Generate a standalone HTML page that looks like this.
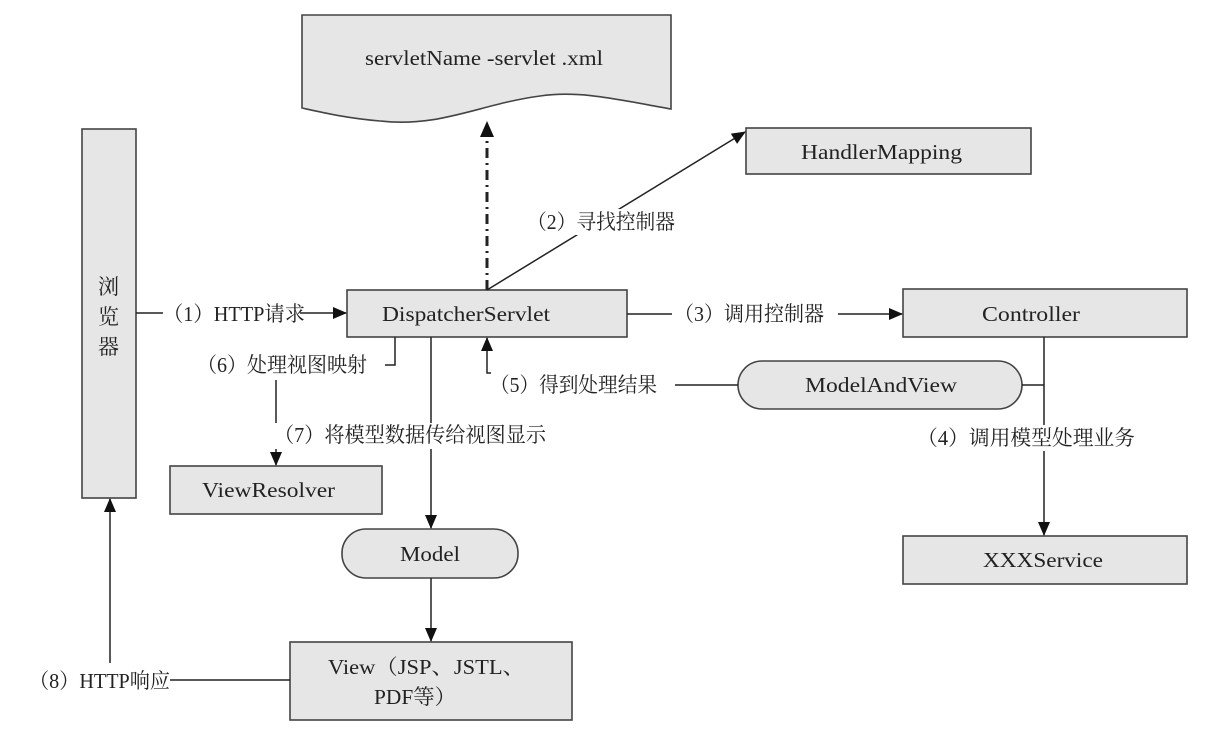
<!DOCTYPE html>
<html><head><meta charset="utf-8"><style>
html,body{margin:0;padding:0;background:#fff;}
svg{display:block;}
text{font-family:"Liberation Serif","Noto Serif CJK SC",serif;font-size:21px;fill:#222;}
</style></head><body>
<svg width="1215" height="733" viewBox="0 0 1215 733" xmlns="http://www.w3.org/2000/svg">
<defs>
<marker id="a" markerWidth="14" markerHeight="12" refX="13" refY="6" orient="auto" markerUnits="userSpaceOnUse">
<path d="M0,0 L14,6 L0,12 Z" fill="#111"/>
</marker>
<marker id="b" markerWidth="16" markerHeight="14" refX="15" refY="7" orient="auto" markerUnits="userSpaceOnUse">
<path d="M0,0 L16,7 L0,14 Z" fill="#111"/>
</marker>
</defs>
<g fill="#e6e6e6" stroke="#444" stroke-width="1.6">
<path d="M302,15 L671,15 L671,109 C620,100 580,90 540,96 C480,104 440,128 380,121 C345,118 320,112 302,108 Z"/>
<rect x="746" y="128" width="285" height="46"/>
<rect x="82" y="129" width="54" height="369"/>
<rect x="347" y="290" width="280" height="47"/>
<rect x="903" y="289" width="284" height="48"/>
<rect x="738" y="361" width="284" height="48" rx="24"/>
<rect x="170" y="466" width="212" height="48"/>
<rect x="342" y="529" width="176" height="49" rx="24"/>
<rect x="903" y="536" width="284" height="48"/>
<rect x="290" y="642" width="282" height="78"/>
</g>
<g fill="none" stroke="#222" stroke-width="1.5">
<line x1="487" y1="290" x2="487" y2="122" stroke-width="3" stroke-dasharray="10,5,2,5" marker-end="url(#b)"/>
<line x1="487" y1="290" x2="745" y2="132" marker-end="url(#a)"/>
<line x1="136" y1="313" x2="163" y2="313"/>
<line x1="300" y1="313" x2="346" y2="313" marker-end="url(#a)"/>
<line x1="627" y1="314" x2="672" y2="314"/>
<line x1="838" y1="314" x2="902" y2="314" marker-end="url(#a)"/>
<line x1="1044" y1="337" x2="1044" y2="535" marker-end="url(#a)"/>
<line x1="1022" y1="385" x2="1044" y2="385"/>
<line x1="675" y1="385" x2="738" y2="385"/>
<polyline points="491,373 487,373 487,338" marker-end="url(#a)"/>
<polyline points="395,337 395,365 385,365"/>
<line x1="276" y1="380" x2="276" y2="465" marker-end="url(#a)"/>
<line x1="431" y1="337" x2="431" y2="528" marker-end="url(#a)"/>
<line x1="431" y1="578" x2="431" y2="641" marker-end="url(#a)"/>
<line x1="170" y1="680" x2="290" y2="680"/>
<line x1="110" y1="663" x2="110" y2="499" marker-end="url(#a)"/>
</g>
<rect x="918" y="425" width="218" height="26" fill="#fff"/>
<rect x="272" y="423" width="278" height="26" fill="#fff"/>
<rect x="527" y="209" width="150" height="26" fill="#fff"/>
<text x="365" y="65" textLength="238" lengthAdjust="spacingAndGlyphs">servletName -servlet .xml</text>
<text x="801" y="159" textLength="161" lengthAdjust="spacingAndGlyphs">HandlerMapping</text>
<text x="527" y="229" textLength="148" lengthAdjust="spacingAndGlyphs">（2）寻找控制器</text>
<text x="98" y="294" font-size="22">浏</text>
<text x="98" y="324" font-size="22">览</text>
<text x="98" y="354" font-size="22">器</text>
<text x="163" y="321" textLength="142" lengthAdjust="spacingAndGlyphs">（1）HTTP请求</text>
<text x="382" y="321" textLength="168" lengthAdjust="spacingAndGlyphs">DispatcherServlet</text>
<text x="674" y="321" textLength="150" lengthAdjust="spacingAndGlyphs">（3）调用控制器</text>
<text x="982" y="321" textLength="98" lengthAdjust="spacingAndGlyphs">Controller</text>
<text x="805" y="392" textLength="152" lengthAdjust="spacingAndGlyphs">ModelAndView</text>
<text x="490" y="392" textLength="167" lengthAdjust="spacingAndGlyphs">（5）得到处理结果</text>
<text x="197" y="372" textLength="170" lengthAdjust="spacingAndGlyphs">（6）处理视图映射</text>
<text x="917" y="445" textLength="218" lengthAdjust="spacingAndGlyphs">（4）调用模型处理业务</text>
<text x="274" y="442" textLength="272" lengthAdjust="spacingAndGlyphs">（7）将模型数据传给视图显示</text>
<text x="202" y="497" textLength="133" lengthAdjust="spacingAndGlyphs">ViewResolver</text>
<text x="400" y="561" textLength="60" lengthAdjust="spacingAndGlyphs">Model</text>
<text x="983" y="567" textLength="120" lengthAdjust="spacingAndGlyphs">XXXService</text>
<text x="328" y="674" textLength="197" lengthAdjust="spacingAndGlyphs">View（JSP、JSTL、</text>
<text x="374" y="704" textLength="82" lengthAdjust="spacingAndGlyphs">PDF等）</text>
<text x="29" y="688" textLength="141" lengthAdjust="spacingAndGlyphs">（8）HTTP响应</text>
</svg>
</body></html>
